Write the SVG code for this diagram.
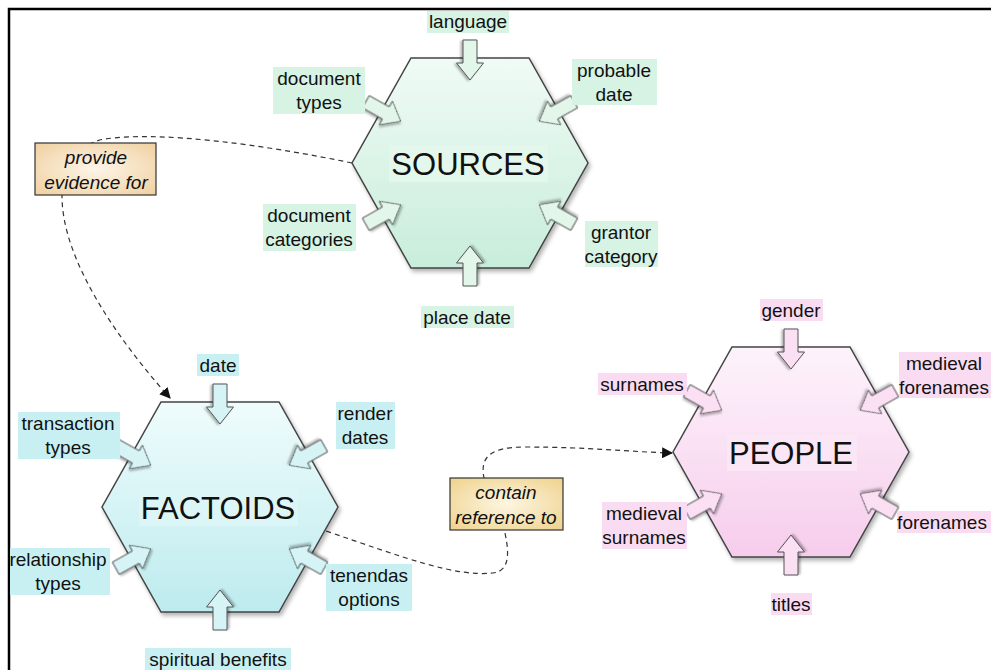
<svg xmlns="http://www.w3.org/2000/svg" xmlns:xlink="http://www.w3.org/1999/xlink" width="991" height="670" viewBox="0 0 991 670">
<style>
  text { font-family: "Liberation Sans", Arial, Helvetica, sans-serif; fill: #111; text-anchor: middle; }
  .lbl { font-size: 19px; }
  .big { font-size: 31px; }
  .rel { font-size: 19px; font-style: italic; }
  .hex { stroke: #444; stroke-width: 1.5; filter: url(#shadow); }
  .arr { stroke: #555; stroke-width: 1; filter: url(#ashadow); }
  .sArr { fill: #e2f6ea; }
  .fArr { fill: #d6f4f6; }
  .pArr { fill: #fbe0f4; }
  .sBg { fill: #d6f3e3; }
  .fBg { fill: #c8f0f2; }
  .pBg { fill: #f9dcf2; }
  .relBox { stroke: #333; stroke-width: 1.2; }
  .conn { fill: none; stroke: #333; stroke-width: 1.2; stroke-dasharray: 5 4; }
</style>
<defs>
  <filter id="shadow" x="-10%" y="-10%" width="125%" height="125%">
    <feDropShadow dx="2" dy="3" stdDeviation="2" flood-color="#000" flood-opacity="0.3"/>
  </filter>
  <filter id="ashadow" x="-20%" y="-20%" width="150%" height="150%">
    <feDropShadow dx="1" dy="2" stdDeviation="1.2" flood-color="#000" flood-opacity="0.3"/>
  </filter>
  <linearGradient id="gS" x1="0" y1="0" x2="0" y2="1">
    <stop offset="0" stop-color="#f0fbf5"/>
    <stop offset="1" stop-color="#c8eddb"/>
  </linearGradient>
  <linearGradient id="gF" x1="0" y1="0" x2="0" y2="1">
    <stop offset="0" stop-color="#effcfc"/>
    <stop offset="1" stop-color="#bdebee"/>
  </linearGradient>
  <linearGradient id="gP" x1="0" y1="0" x2="0" y2="1">
    <stop offset="0" stop-color="#fdf3fb"/>
    <stop offset="1" stop-color="#f6cdec"/>
  </linearGradient>
  <radialGradient id="gR1" cx="0.5" cy="0.5" r="0.7">
    <stop offset="0" stop-color="#fdf5e8"/>
    <stop offset="1" stop-color="#f0d0a0"/>
  </radialGradient>
  <radialGradient id="gR2" cx="0.5" cy="0.5" r="0.7">
    <stop offset="0" stop-color="#fdf6e2"/>
    <stop offset="1" stop-color="#efd28c"/>
  </radialGradient>
  <path id="arrow" d="M0,-7 L23,-7 L23,-13.5 L40,0 L23,13.5 L23,7 L0,7 Z"/>
  <marker id="head" viewBox="0 0 10 10" refX="9" refY="5" markerWidth="11" markerHeight="11" markerUnits="userSpaceOnUse" orient="auto">
    <path d="M0,0 L10,5 L0,10 Z" fill="#111"/>
  </marker>
</defs>

<rect x="0" y="0" width="991" height="670" fill="#fff"/>
<path d="M9,670 L9,9 L991,9" fill="none" stroke="#000" stroke-width="2.5"/>

<g id="connectors">
  <path class="conn" d="M352,163 C260,144 160,131 105,139 C78,143 63,168 62,196 C62,260 118,340 170,398" marker-end="url(#head)"/>
  <path class="conn" d="M326,531 C405,558 455,577 493,573 C512,571 509,548 503,525 L485,482 C478,457 490,447 525,447 C590,447 630,452 672,453" marker-end="url(#head)"/>
</g>

<g id="sources">
  <polygon class="hex" fill="url(#gS)" points="411,58 529,58 588,163 529,268 411,268 352,163"/>
  <rect x="389" y="145" width="159" height="37" fill="#e4f7ed"/>
  <text class="big" x="468" y="175">SOURCES</text>
  <use href="#arrow" class="arr sArr" transform="translate(470,40) rotate(90)"/>
  <use href="#arrow" class="arr sArr" transform="translate(470,286) rotate(-90)"/>
  <use href="#arrow" class="arr sArr" transform="translate(574.2,101.7) rotate(150.7)"/>
  <use href="#arrow" class="arr sArr" transform="translate(365.8,101.7) rotate(29.3)"/>
  <use href="#arrow" class="arr sArr" transform="translate(574.2,224.3) rotate(-150.7)"/>
  <use href="#arrow" class="arr sArr" transform="translate(365.8,224.3) rotate(-29.3)"/>
</g>
<g id="sources-language"><rect class="sBg" x="427" y="11" width="82" height="22"/><text class="lbl" x="468" y="28">language</text></g>
<g id="sources-document-types"><rect class="sBg" x="273" y="67" width="92" height="47"/><text class="lbl" x="319" y="84.5">document</text><text class="lbl" x="319" y="109">types</text></g>
<g id="sources-probable-date"><rect class="sBg" x="572" y="59" width="85" height="46"/><text class="lbl" x="614" y="76.5">probable</text><text class="lbl" x="614" y="100.5">date</text></g>
<g id="sources-document-categories"><rect class="sBg" x="263" y="204" width="93" height="47"/><text class="lbl" x="309" y="221.5">document</text><text class="lbl" x="309" y="246">categories</text></g>
<g id="sources-grantor-category"><rect class="sBg" x="585" y="221" width="73" height="46"/><text class="lbl" x="621" y="238.5">grantor</text><text class="lbl" x="621" y="262.5">category</text></g>
<g id="sources-place-date"><rect class="sBg" x="421" y="306" width="93" height="22"/><text class="lbl" x="467" y="323.5">place date</text></g>

<g id="factoids">
  <polygon class="hex" fill="url(#gF)" points="161,402 279,402 338,507 279,612 161,612 102,507"/>
  <rect x="139" y="489" width="159" height="37" fill="#dcf6f7"/>
  <text class="big" x="218" y="519">FACTOIDS</text>
  <use href="#arrow" class="arr fArr" transform="translate(220,384) rotate(90)"/>
  <use href="#arrow" class="arr fArr" transform="translate(220,630) rotate(-90)"/>
  <use href="#arrow" class="arr fArr" transform="translate(324.2,445.7) rotate(150.7)"/>
  <use href="#arrow" class="arr fArr" transform="translate(115.8,445.7) rotate(29.3)"/>
  <use href="#arrow" class="arr fArr" transform="translate(324.2,568.3) rotate(-150.7)"/>
  <use href="#arrow" class="arr fArr" transform="translate(115.8,568.3) rotate(-29.3)"/>
</g>
<g id="factoids-date"><rect class="fBg" x="197" y="354" width="42" height="22"/><text class="lbl" x="218" y="371.5">date</text></g>
<g id="factoids-transaction-types"><rect class="fBg" x="18" y="412" width="102" height="47"/><text class="lbl" x="68" y="429.5">transaction</text><text class="lbl" x="68" y="453.5">types</text></g>
<g id="factoids-render-dates"><rect class="fBg" x="336" y="402" width="59" height="47"/><text class="lbl" x="365" y="419.5">render</text><text class="lbl" x="365" y="443.5">dates</text></g>
<g id="factoids-relationship-types"><rect class="fBg" x="10" y="548" width="100" height="47"/><text class="lbl" x="58" y="565.5">relationship</text><text class="lbl" x="58" y="589.5">types</text></g>
<g id="factoids-tenendas-options"><rect class="fBg" x="326" y="564" width="86" height="47"/><text class="lbl" x="369" y="581.5">tenendas</text><text class="lbl" x="369" y="605.5">options</text></g>
<g id="factoids-spiritual-benefits"><rect class="fBg" x="145" y="648" width="146" height="22"/><text class="lbl" x="218" y="665.5">spiritual benefits</text></g>

<g id="people">
  <polygon class="hex" fill="url(#gP)" points="732,347 850,347 909,452 850,557 732,557 673,452"/>
  <rect x="727" y="434" width="130" height="37" fill="#fbe6f6"/>
  <text class="big" x="791" y="464">PEOPLE</text>
  <use href="#arrow" class="arr pArr" transform="translate(791,329) rotate(90)"/>
  <use href="#arrow" class="arr pArr" transform="translate(791,575) rotate(-90)"/>
  <use href="#arrow" class="arr pArr" transform="translate(895.2,390.7) rotate(150.7)"/>
  <use href="#arrow" class="arr pArr" transform="translate(686.8,390.7) rotate(29.3)"/>
  <use href="#arrow" class="arr pArr" transform="translate(895.2,513.3) rotate(-150.7)"/>
  <use href="#arrow" class="arr pArr" transform="translate(686.8,513.3) rotate(-29.3)"/>
</g>
<g id="people-gender"><rect class="pBg" x="760" y="299" width="63" height="22"/><text class="lbl" x="791" y="316.5">gender</text></g>
<g id="people-surnames"><rect class="pBg" x="598" y="373" width="89" height="22"/><text class="lbl" x="642" y="390.5">surnames</text></g>
<g id="people-medieval-forenames"><rect class="pBg" x="899" y="352" width="92" height="46"/><text class="lbl" x="944" y="369.5">medieval</text><text class="lbl" x="944" y="393.5">forenames</text></g>
<g id="people-medieval-surnames"><rect class="pBg" x="602" y="502" width="85" height="47"/><text class="lbl" x="644" y="519.5">medieval</text><text class="lbl" x="644" y="543.5">surnames</text></g>
<g id="people-forenames"><rect class="pBg" x="897" y="511" width="94" height="22"/><text class="lbl" x="942" y="528.5">forenames</text></g>
<g id="people-titles"><rect class="pBg" x="771" y="593" width="41" height="22"/><text class="lbl" x="791" y="610.5">titles</text></g>

<g id="rel-provide-evidence">
  <rect class="relBox" x="35" y="143" width="121" height="52" fill="url(#gR1)"/>
  <text class="rel" x="96" y="163.5">provide</text>
  <text class="rel" x="96" y="188.5">evidence for</text>
</g>
<g id="rel-contain-reference">
  <rect class="relBox" x="450" y="478" width="113" height="52" fill="url(#gR2)"/>
  <text class="rel" x="506" y="498.5">contain</text>
  <text class="rel" x="506" y="523.5">reference to</text>
</g>
</svg>
